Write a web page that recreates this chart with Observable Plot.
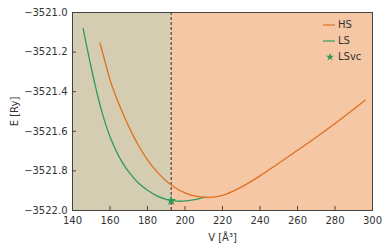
<!DOCTYPE html>
<html>
<head>
<meta charset="utf-8">
<script src="https://cdn.jsdelivr.net/npm/d3@7"></script>
<script src="https://cdn.jsdelivr.net/npm/@observablehq/plot@0.6"></script>
<style>
  html, body { margin: 0; padding: 0; background: #fff; }
  #wrap { position: relative; width: 389px; height: 248px; font-family: "DejaVu Sans", sans-serif; }
  #legend { position: absolute; left: 322px; top: 17px; font-size: 10px; color: #333; line-height: 16px; }
  #legend .row { display: flex; align-items: center; height: 16px; }
  #legend svg { margin-right: 2px; }
</style>
</head>
<body>
<div id="wrap"><div id="legend"></div></div>
<script>
// HS curve (volume in Å^3, energy in Ry)
const hsV = [154.6, 158, 160, 163, 166, 170, 175, 180, 185, 190, 195, 200, 205, 210, 213, 217, 222, 230, 240, 250, 260, 270, 280, 290, 296];
const hsE = [-3521.153, -3521.27, -3521.34, -3521.42, -3521.49, -3521.575, -3521.668, -3521.744, -3521.804, -3521.851, -3521.886, -3521.911, -3521.926, -3521.9325, -3521.9335, -3521.93, -3521.917, -3521.882, -3521.825, -3521.761, -3521.696, -3521.63, -3521.561, -3521.488, -3521.443];
// LS curve
const lsV = [145.7, 147, 148.5, 150, 152, 154, 156, 158, 160, 163, 166, 170, 175, 180, 185, 190, 193, 196, 199, 205, 211];
const lsE = [-3521.082, -3521.143, -3521.212, -3521.279, -3521.364, -3521.442, -3521.512, -3521.574, -3521.628, -3521.693, -3521.748, -3521.805, -3521.86, -3521.898, -3521.926, -3521.944, -3521.9505, -3521.953, -3521.9525, -3521.945, -3521.932];
// LSvc point
const lsvcV = [192.6];
const lsvcE = [-3521.95];
// axes
const xDomain = [140, 300];
const yDomain = [-3522, -3521];
const xTicks = [140, 160, 180, 200, 220, 240, 260, 280, 300];
const yTicks = [-3522.0, -3521.8, -3521.6, -3521.4, -3521.2, -3521.0];
const seriesNames = ["HS", "LS", "LSvc"];

const hs = hsV.map((v, i) => ({V: v, E: hsE[i]}));
const ls = lsV.map((v, i) => ({V: v, E: lsE[i]}));
const lsvc = lsvcV.map((v, i) => ({V: v, E: lsvcE[i]}));

const orange = "#e0701e";
const green = "#2f9a5a";
const split = lsvcV[0];

const chart = Plot.plot({
  width: 389,
  height: 248,
  marginLeft: 72,
  marginRight: 17,
  marginTop: 12,
  marginBottom: 38,
  style: {fontFamily: "DejaVu Sans, sans-serif", fontSize: "10px", color: "#333", background: "#fff"},
  x: {domain: xDomain},
  y: {domain: yDomain},
  marks: [
    Plot.rect([{x1: xDomain[0], x2: split}], {x1: "x1", x2: "x2", y1: yDomain[0], y2: yDomain[1], fill: "#d5cdb1"}),
    Plot.rect([{x1: split, x2: xDomain[1]}], {x1: "x1", x2: "x2", y1: yDomain[0], y2: yDomain[1], fill: "#f5c7a5"}),
    Plot.ruleX(lsvcV, {x: d => d, stroke: "#222", strokeWidth: 1, strokeDasharray: "3,2"}),
    Plot.line(ls, {x: "V", y: "E", stroke: green, strokeWidth: 1.3, curve: "catmull-rom"}),
    Plot.line(hs, {x: "V", y: "E", stroke: orange, strokeWidth: 1.3, curve: "catmull-rom"}),
    Plot.dot(lsvc, {x: "V", y: "E", fill: green, symbol: "star", r: 3.2}),
    Plot.axisX({ticks: xTicks, tickSize: 0, tickPadding: 6, tickFormat: d3.format("d"), label: "V [Å³]", labelAnchor: "center", labelArrow: "none", labelOffset: 30}),
    Plot.axisX({ticks: xTicks, tickSize: -4, tickFormat: () => "", label: null, stroke: "#444"}),
    Plot.axisY({ticks: yTicks, tickSize: 0, tickPadding: 5, tickFormat: d3.format(".1f"), label: "E [Ry]", labelAnchor: "center", labelArrow: "none", labelOffset: 62}),
    Plot.axisY({ticks: yTicks, tickSize: -4, tickFormat: () => "", label: null, stroke: "#444"}),
    Plot.frame({stroke: "#444", strokeWidth: 1})
  ]
});
document.getElementById("wrap").prepend(chart);

// legend
const legend = document.getElementById("legend");
const items = [
  {name: seriesNames[0], type: "line", color: orange},
  {name: seriesNames[1], type: "line", color: green},
  {name: seriesNames[2], type: "star", color: green}
];
for (const it of items) {
  const row = document.createElement("div");
  row.className = "row";
  const svg = d3.create("svg").attr("width", 14).attr("height", 10);
  if (it.type === "line") {
    svg.append("line").attr("x1", 1).attr("x2", 13).attr("y1", 5).attr("y2", 5).attr("stroke", it.color).attr("stroke-width", 1.2);
  } else {
    svg.append("path").attr("d", d3.symbol(d3.symbolStar, 20)()).attr("transform", "translate(8,5)").attr("fill", it.color);
  }
  row.appendChild(svg.node());
  const t = document.createElement("span");
  t.textContent = it.name;
  row.appendChild(t);
  legend.appendChild(row);
}
</script>
</body>
</html>
